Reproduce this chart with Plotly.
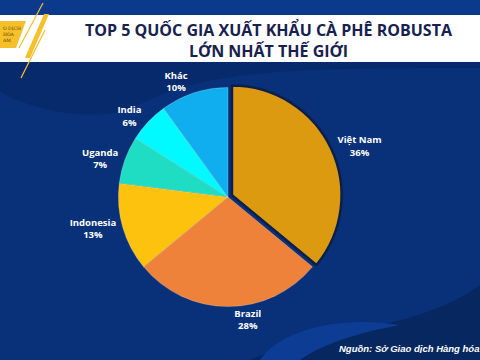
import plotly.graph_objects as go

countries = ["Việt Nam", "Brazil", "Indonesia", "Uganda", "India", "Khác"]
shares = [36, 28, 13, 7, 6, 10]
colors = ["#DB9A10", "#EE823A", "#FDC20E", "#1FDDC3", "#00FAFF", "#10AEEF"]
title_lines = ["TOP 5 QUỐC GIA XUẤT KHẨU CÀ PHÊ ROBUSTA", "LỚN NHẤT THẾ GIỚI"]
source_text = "Nguồn: Sở Giao dịch Hàng hóa Việt Nam"

W, H = 480, 360
BG = "#08317A"

def px(x):
    return x / W

def py(y):
    return 1 - y / H

fig = go.Figure()
fig.add_trace(go.Pie(
    labels=countries,
    values=shares,
    sort=False,
    direction="clockwise",
    rotation=0,
    pull=[0.04, 0, 0, 0, 0, 0],
    marker=dict(colors=colors,
                line=dict(color=["#0B1F4D", "rgba(255,255,255,0.35)", "rgba(255,255,255,0.35)",
                                 "rgba(255,255,255,0.35)", "rgba(255,255,255,0.35)", "rgba(255,255,255,0.35)"],
                          width=[2.5, 0.6, 0.6, 0.6, 0.6, 0.6])),
    texttemplate="<b>%{label}</b><br><b>%{percent:.0%}</b>",
    textposition="outside",
    textfont=dict(family="Open Sans", size=9.5, color="white"),
    outsidetextfont=dict(family="Open Sans", size=9.5, color="white"),
    hoverinfo="label+percent",
    showlegend=False,
    domain=dict(x=[px(228 - 114), px(228 + 114)], y=[py(197 + 114), py(197 - 114)]),
))

shapes = []
# top band background (lighter blue)
shapes.append(dict(type="rect", xref="paper", yref="paper", x0=0, x1=1, y0=py(62), y1=1,
                   fillcolor="#0B3A8C", line=dict(width=0), layer="below"))
# dark wave under header
shapes.append(dict(type="path", xref="paper", yref="paper",
                   path=f"M 0 {py(62)} L {px(480)} {py(62)} L {px(480)} {py(68)} "
                        f"C {px(300)} {py(68)}, {px(200)} {py(68)}, {px(130)} {py(110)} "
                        f"C {px(80)} {py(122)}, {px(30)} {py(108)}, 0 {py(92)} Z",
                   fillcolor="#072A6C", line=dict(width=0), layer="below"))
# bottom-right dark wave
shapes.append(dict(type="path", xref="paper", yref="paper",
                   path=f"M {px(250)} {py(360)} C {px(320)} {py(330)}, {px(420)} {py(330)}, {px(480)} {py(285)} "
                        f"L {px(480)} {py(360)} Z",
                   fillcolor="#06275F", line=dict(width=0), layer="below"))
# lighter swirl bottom center
shapes.append(dict(type="path", xref="paper", yref="paper",
                   path=f"M {px(260)} {py(360)} C {px(280)} {py(330)}, {px(340)} {py(315)}, {px(400)} {py(325)} "
                        f"C {px(360)} {py(332)}, {px(320)} {py(345)}, {px(300)} {py(360)} Z",
                   fillcolor="#0C3C94", line=dict(width=0), layer="below"))
# white header band
shapes.append(dict(type="rect", xref="paper", yref="paper", x0=0, x1=1, y0=py(62), y1=py(15),
                   fillcolor="white", line=dict(width=0), layer="below"))
# yellow logo block
shapes.append(dict(type="path", xref="paper", yref="paper",
                   path=f"M 0 {py(21)} L {px(26)} {py(21)} L {px(16)} {py(48)} L 0 {py(48)} Z",
                   fillcolor="#F5C02A", line=dict(width=0), layer="below"))
# thick yellow stripe
shapes.append(dict(type="path", xref="paper", yref="paper",
                   path=f"M {px(44)} {py(14)} L {px(49)} {py(14)} L {px(30)} {py(58)} L {px(25)} {py(58)} Z",
                   fillcolor="#F5C02A", line=dict(width=0), layer="below"))
# thin yellow lines
shapes.append(dict(type="line", xref="paper", yref="paper",
                   x0=px(43), y0=py(3), x1=px(19), y1=py(48),
                   line=dict(color="#F5C02A", width=1.2), layer="below"))
shapes.append(dict(type="line", xref="paper", yref="paper",
                   x0=px(45), y0=py(30), x1=px(21), y1=py(78),
                   line=dict(color="#F5C02A", width=1.2), layer="below"))

annotations = [
    dict(text="<b>" + title_lines[0] + "</b><br><b>" + title_lines[1] + "</b>",
         x=px(269), y=py(40.5), xref="paper", yref="paper",
         xanchor="center", yanchor="middle", align="center",
         showarrow=False, font=dict(family="Open Sans", size=16, color="#17214F")),
    dict(text="O DỊCH<br>HÓA<br>AM", x=0, y=py(35), xref="paper", yref="paper", xanchor="left",
         yanchor="middle", showarrow=False, align="left",
         font=dict(family="DejaVu Serif", size=4.5, color="#5A3A00")),
    dict(text="<b><i>" + source_text + "</i></b>", x=px(337), y=py(348), xref="paper", yref="paper",
         xanchor="left", yanchor="middle", showarrow=False,
         font=dict(family="Liberation Sans", size=9.5, color="white")),
]

fig.update_layout(
    width=W, height=H,
    margin=dict(l=0, r=0, t=0, b=0),
    paper_bgcolor=BG,
    plot_bgcolor=BG,
    shapes=shapes,
    annotations=annotations,
)

fig.write_html("out.html",
               config={"displayModeBar": False},
               post_script="document.body.style.margin='0';document.body.style.overflow='hidden';")
